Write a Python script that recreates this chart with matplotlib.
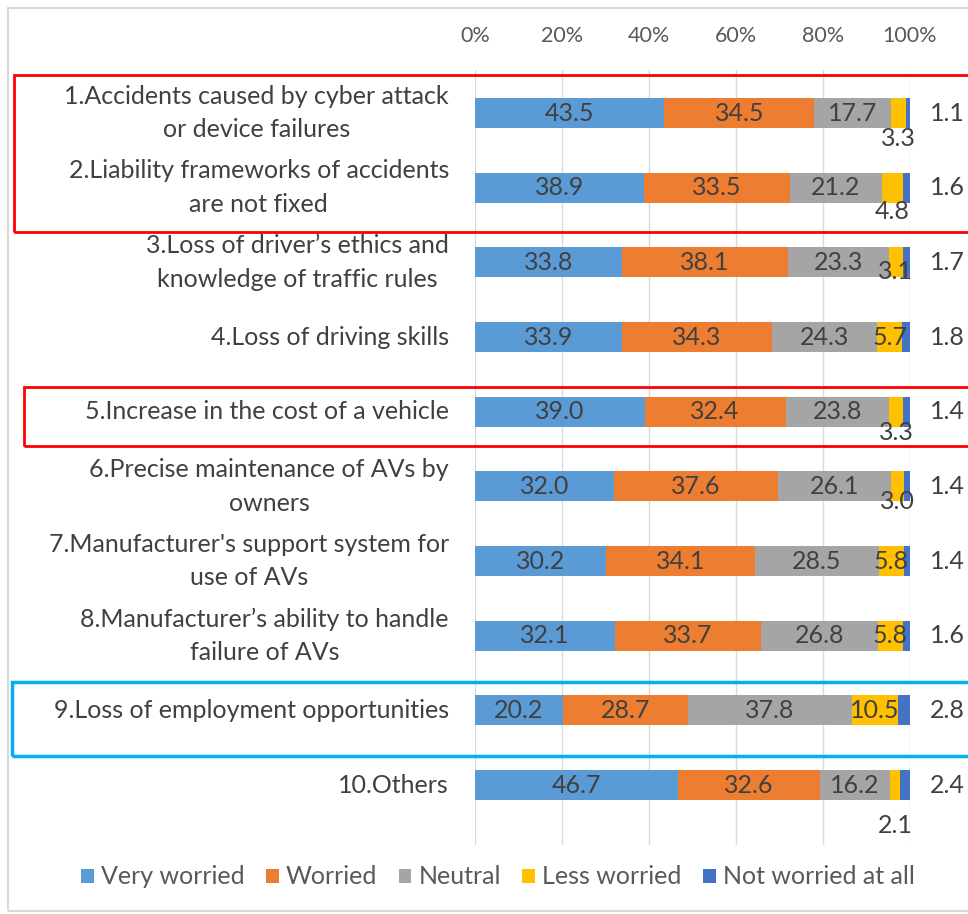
import matplotlib.pyplot as plt
from matplotlib.patches import Rectangle
import numpy as np

plt.rcParams['font.family'] = ['Lato', 'DejaVu Sans']

categories = [
    "1.Accidents caused by cyber attack\nor device failures",
    "2.Liability frameworks of accidents\nare not fixed",
    "3.Loss of driver\u2019s ethics and\nknowledge of traffic rules",
    "4.Loss of driving skills",
    "5.Increase in the cost of a vehicle",
    "6.Precise maintenance of AVs by\nowners",
    "7.Manufacturer's support system for\nuse of AVs",
    "8.Manufacturer\u2019s ability to handle\nfailure of AVs",
    "9.Loss of employment opportunities",
    "10.Others",
]
series = ["Very worried", "Worried", "Neutral", "Less worried", "Not worried at all"]
very_worried = [43.5, 38.9, 33.8, 33.9, 39.0, 32.0, 30.2, 32.1, 20.2, 46.7]
worried = [34.5, 33.5, 38.1, 34.3, 32.4, 37.6, 34.1, 33.7, 28.7, 32.6]
neutral = [17.7, 21.2, 23.3, 24.3, 23.8, 26.1, 28.5, 26.8, 37.8, 16.2]
less_worried = [3.3, 4.8, 3.1, 5.7, 3.3, 3.0, 5.8, 5.8, 10.5, 2.1]
not_worried = [1.1, 1.6, 1.7, 1.8, 1.4, 1.4, 1.4, 1.6, 2.8, 2.4]
colors = ["#5B9BD5", "#ED7D31", "#A5A5A5", "#FFC000", "#4472C4"]

# where the small "less worried" labels sit (pixels below bar centre, 0 = inside)
less_offset_px = [25, 24, 9, 0, 21, 15, 0, 0, 0, 40]

W, H = 968, 914
fig = plt.figure(figsize=(W / 100, H / 100), dpi=100)

def px(x, y):
    return x / W, 1 - y / H

# axes in pixel terms
ax_l, ax_r, ax_t, ax_b = 475, 910, 70, 845
ax = fig.add_axes([ax_l / W, 1 - ax_b / H, (ax_r - ax_l) / W, (ax_b - ax_t) / H])
row0, step = 113, 74.67
ax.set_xlim(0, 100)
ax.set_ylim((ax_b - row0) / step, -(row0 - ax_t) / step)

y = np.arange(len(categories))
data = [very_worried, worried, neutral, less_worried, not_worried]
left = np.zeros(len(categories))
for vals, c, name in zip(data, colors, series):
    ax.barh(y, vals, left=left, height=0.4, color=c, label=name, zorder=2)
    left += np.array(vals)

txt = "#404040"
fs = 18
cum = np.zeros(len(categories))
for k, vals in enumerate(data):
    for i, v in enumerate(vals):
        cx = cum[i] + v / 2
        if k < 3:
            ax.text(cx, i, f"{v:.1f}", ha="center", va="center", color=txt, fontsize=fs, zorder=3)
        elif k == 3:
            off = less_offset_px[i] / step
            ax.text(cx, i + off, f"{v:.1f}", ha="center", va="center", color=txt, fontsize=fs, zorder=3)
        else:
            ax.text(104.5, i, f"{v:.1f}", ha="left", va="center", color=txt, fontsize=fs,
                    zorder=3, clip_on=False)
    cum += np.array(vals)

ax.set_yticks(y)
ax.set_yticklabels([])
for i, lab in enumerate(categories):
    ax.text(-6, i, lab, ha="right", va="center", multialignment="center",
            fontsize=18, color=txt, linespacing=1.55)
ax.tick_params(axis="y", length=0)

ax.xaxis.tick_top()
ax.set_xticks(np.arange(0, 101, 20))
ax.set_xticklabels([f"{t}%" for t in range(0, 101, 20)])
ax.tick_params(axis="x", length=0, pad=17, labelsize=15.5, labelcolor="#595959")
ax.grid(axis="x", color="#D9D9D9", lw=1, zorder=0)
for s in ax.spines.values():
    s.set_visible(False)

# outer chart border and highlight boxes
def box(x0, y0, x1, y1, color, lw):
    fx, fy = px(x0, y1)
    fig.patches.append(Rectangle((fx, fy), (x1 - x0) / W, (y1 - y0) / H, fill=False,
                                 edgecolor=color, lw=lw, transform=fig.transFigure, zorder=5))

box(8, 8, 980, 911, "#D9D9D9", 1.5)
box(14, 75, 980, 232, "#FF0000", 2)
box(24, 387, 980, 446, "#FF0000", 2)
box(12, 682, 980, 756, "#00B0F0", 2.5)

fig.legend(loc="center", bbox_to_anchor=px(498, 877), ncol=5, frameon=False,
           fontsize=18, handlelength=0.5, handleheight=0.5, handletextpad=0.3,
           columnspacing=0.85, labelcolor="#595959")

fig.savefig("out.png", dpi=100)
